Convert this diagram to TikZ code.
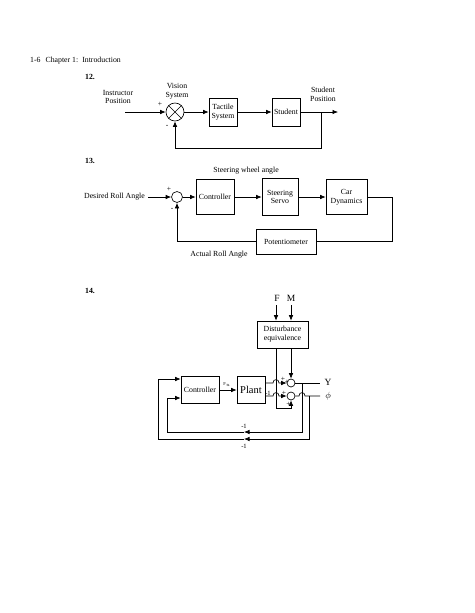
\documentclass[tikz,border=0pt]{standalone}
\usepackage{fontspec}
\setmainfont{Liberation Serif}
\usetikzlibrary{arrows.meta}
\begin{document}
\begin{tikzpicture}[x=1pt,y=-1pt,
  every node/.style={font=\fontsize{7.8}{8.8}\selectfont},
  blk/.style={draw, align=center, inner sep=1pt, line width=0.65pt},
  sum/.style={draw, circle, inner sep=0pt, line width=0.65pt},
  ln/.style={line width=0.65pt},
  arr/.style={ln, -{Latex[length=5.5pt,width=4.5pt]}},
  txt/.style={align=center, inner sep=0pt},
  num/.style={inner sep=0pt, font=\fontsize{7.8}{8.8}\selectfont\bfseries},
  sgn/.style={inner sep=0pt, font=\fontsize{7.5}{8}\selectfont},
]
\useasboundingbox (0,0) rectangle (474,613);

% header
\node[inner sep=0pt, anchor=west] (hdr) at (30,61) {1-6\hspace{5pt}Chapter 1:\hspace{4pt}Introduction};

% ---------------- 12 ----------------
\node[num] (n12) at (90,77) {12.};
\node[sum, minimum size=18pt] (s1) at (175,112) {};
\draw[ln] (s1.north east) -- (s1.south west) (s1.north west) -- (s1.south east);
\node[blk, minimum width=28pt, minimum height=28pt] (tac) at (223,112) {Tactile\\System};
\node[blk, minimum width=28pt, minimum height=28pt] (stu) at (286,112) {Student};
\coordinate (in1) at (125,112);
\coordinate (out1) at (338,112);
\coordinate (br1) at (321,112);
\coordinate (fb1) at (175,148);
\draw[arr] (in1) -- (s1);
\draw[arr] (s1) -- (tac);
\draw[arr] (tac) -- (stu);
\draw[arr] (stu) -- (out1);
\draw[arr] (br1) |- (fb1) -- (s1);
\node[txt] (t12a) at (118,97) {Instructor\\Position};
\node[txt] (t12b) at (177,91) {Vision\\System};
\node[txt] (t12c) at (323,94) {Student\\Position};
\node[sgn] (p12) at (160,104) {+};
\node[sgn] (m12) at (167,126) {-};

% ---------------- 13 ----------------
\node[num] (n13) at (90,161) {13.};
\node[sum, minimum size=11pt] (s2) at (177,197) {};
\node[blk, minimum width=38pt, minimum height=35pt] (ctl) at (215,197) {Controller};
\node[blk, minimum width=36pt, minimum height=37pt] (srv) at (280,197) {Steering\\Servo};
\node[blk, minimum width=41pt, minimum height=35pt] (car) at (346.5,197) {Car\\Dynamics};
\node[blk, minimum width=60pt, minimum height=25pt] (pot) at (286,241.5) {Potentiometer};
\node[txt, anchor=east] (t13a) at (145,197) {Desired Roll Angle};
\coordinate (in2) at (148,197);
\coordinate (c2) at (392,197);
\draw[arr] (in2) -- (s2);
\draw[arr] (s2) -- (ctl);
\draw[arr] (ctl) -- (srv);
\draw[arr] (srv) -- (car);
\draw[ln] (car) -- (c2) |- (pot);
\draw[arr] (pot) -| (s2);
\node[txt] (t13b) at (246,171) {Steering wheel angle};
\node[txt] (t13c) at (219,255) {Actual Roll Angle};
\node[sgn] (p13) at (169,189) {+};
\node[sgn] (m13) at (172,209) {-};

% ---------------- 14 ----------------
\node[num] (n14) at (90,291) {14.};
\node[txt, font=\fontsize{9.5}{10}\selectfont] (tF) at (277,298) {F};
\node[txt, font=\fontsize{9.5}{10}\selectfont] (tM) at (291,298) {M};
\node[blk, minimum width=51pt, minimum height=27pt] (dis) at (282.5,334.5) {Disturbance\\equivalence};
\coordinate (fin) at (276,305);
\coordinate (min) at (291,305);
\draw[arr] (fin) -- (fin |- dis.north);
\draw[arr] (min) -- (min |- dis.north);

\node[blk, minimum width=38pt, minimum height=27pt] (con) at (200,389.5) {Controller};
\node[blk, minimum width=28pt, minimum height=27pt, font=\fontsize{10.5}{11}\selectfont] (pl) at (251,389.5) {Plant};
\node[sum, minimum size=8pt] (sa) at (291,383) {};
\node[sum, minimum size=8pt] (sb) at (291,396) {};

% disturbance outputs
\coordinate (fd) at (276,408);
\draw[arr] (dis.south -| min) -- (sa);
\draw[arr] (dis.south -| fin) -- (fd) -| (sb);

% controller to plant
\draw[arr] (con.east |- 0,390) -- (pl.west |- 0,390);
\node[txt, font=\fontsize{4.5}{5}\selectfont] (fu) at (227,385) {F$_u$};

% plant outputs with hops over the F line
\coordinate (ha1) at (273,383);
\coordinate (ha2) at (279,383);
\coordinate (hb1) at (273,396);
\coordinate (hb2) at (279,396);
\draw[arr] (pl.east |- sa) -- (ha1) .. controls (273,378.5) and (279,378.5) .. (ha2) -- (sa);
\draw[arr] (pl.east |- sb) -- (hb1) .. controls (273,391.5) and (279,391.5) .. (hb2) -- (sb);
\node[sgn, font=\fontsize{6.5}{7}\selectfont] (m14) at (268,393) {-1};
\node[sgn] (pa1) at (283,379.5) {+};
\node[sgn] (pa2) at (287,382.5) {+};
\node[sgn] (pb1) at (284,393) {+};
\node[sgn] (pb2) at (288.5,404) {+};

% outputs
\coordinate (oy) at (320,383);
\coordinate (op) at (320,396);
\coordinate (hc1) at (299,396);
\coordinate (hc2) at (305,396);
\draw[ln] (sa) -- (oy);
\draw[ln] (sb) -- (hc1) .. controls (299,391.5) and (305,391.5) .. (hc2) -- (op);
\node[txt, font=\fontsize{9.5}{10}\selectfont] (tY) at (328,382) {Y};
\node[txt, font=\fontsize{9.5}{10}\selectfont] (tP) at (328,396) {$\phi$};

% inner feedback from Y
\coordinate (ya) at (302,383);
\coordinate (yb) at (302,432);
\coordinate (yc) at (244,432);
\coordinate (yd) at (167,432);
\coordinate (ye) at (167,398);
\draw[arr] (ya) -- (yb) -- (yc);
\draw[arr] (yc) -- (yd) -- (ye) -- (con.west |- ye);
\node[sgn, font=\fontsize{6.5}{7}\selectfont] (l1) at (244,426) {-1};

% outer feedback from phi
\coordinate (pa) at (309,396);
\coordinate (pb) at (309,439);
\coordinate (pc) at (244,439);
\coordinate (pd) at (158,439);
\coordinate (pe) at (158,379);
\draw[arr] (pa) -- (pb) -- (pc);
\draw[arr] (pc) -- (pd) -- (pe) -- (con.west |- pe);
\node[sgn, font=\fontsize{6.5}{7}\selectfont] (l2) at (244,446) {-1};
\end{tikzpicture}
\end{document}
